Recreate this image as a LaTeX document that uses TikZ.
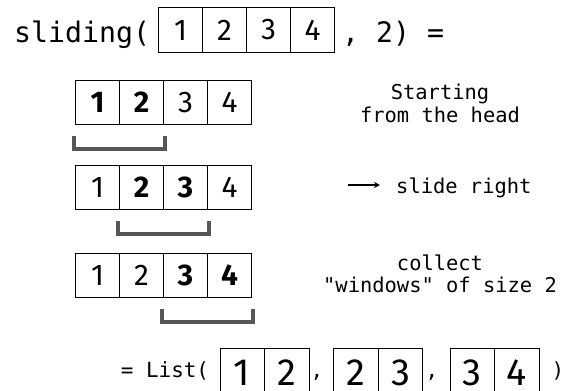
\documentclass[tikz,border=0pt]{standalone}
\usepackage{fontspec}
\setmainfont{Fira Sans}
\setmonofont{DejaVu Sans Mono}
\usetikzlibrary{calc,arrows.meta}
\definecolor{brk}{HTML}{575757}
\begin{document}
\begin{tikzpicture}[x=1bp,y=-1bp,
  cell/.style={draw=black,line width=1bp,minimum width=44bp,minimum height=44bp,
    inner sep=0pt,anchor=north west,font=\fontsize{30}{30}\selectfont},
  hot/.style={cell,font=\fontsize{30}{30}\selectfont\bfseries},
  pairbox/.style={draw=black,line width=1bp,minimum width=89bp,minimum height=48bp,
    inner sep=0pt,anchor=north west},
  bigdigit/.style={inner sep=0pt,font=\fontsize{38}{38}\selectfont},
  code/.style={inner sep=0pt,anchor=base west,font=\ttfamily\fontsize{28.3}{28.3}\selectfont},
  small/.style={inner sep=0pt,anchor=base,font=\ttfamily\fontsize{21}{21}\selectfont},
  note/.style={inner sep=0pt,anchor=base,font=\ttfamily\fontsize{20.5}{20.5}\selectfont},
  bracket/.style={draw=brk,line width=4.5bp,line join=miter},
  pointer/.style={draw=black,line width=1.3bp,-{Stealth[length=6bp,width=6bp]}},
]
\clip (0,0) rectangle (566,390);

% call line
\node[code] (call) at (14,42) {sliding(};
\node[cell,minimum height=45bp] (t1) at (158,7) {1};
\node[cell,minimum height=45bp] (t2) at (202,7) {2};
\node[cell,minimum height=45bp] (t3) at (246,7) {3};
\node[cell,minimum height=45bp] (t4) at (290,7) {4};
\node[code] (arg) at (342,42) {, 2) =};

% first window
\node[hot]  (a1) at (75,80)  {1};
\node[hot]  (a2) at (119,80) {2};
\node[cell] (a3) at (163,80) {3};
\node[cell] (a4) at (207,80) {4};
\draw[bracket] ($(a1.south west)+(-1,11)$) -- ++(0,13) -| ($(a2.south east)+(1,11)$);

% second window
\node[cell] (b1) at (75,165)  {1};
\node[hot]  (b2) at (119,165) {2};
\node[hot]  (b3) at (163,165) {3};
\node[cell] (b4) at (207,165) {4};
\draw[bracket] ($(b2.south west)+(-1,11)$) -- ++(0,13) -| ($(b3.south east)+(1,11)$);

% third window
\node[cell] (c1) at (75,253)  {1};
\node[cell] (c2) at (119,253) {2};
\node[hot]  (c3) at (163,253) {3};
\node[hot]  (c4) at (207,253) {4};
\draw[bracket] ($(c3.south west)+(-1,11)$) -- ++(0,13) -| ($(c4.south east)+(1,11)$);

% side notes
\node[note] (start1) at (440,99.5) {Starting};
\node[note] (start2) at (440,122)  {from the head};
\node[note,anchor=base west] (slide) at (396,193) {slide right};
\coordinate (arrtail) at (348,185);
\coordinate (arrtip) at (380,185);
\draw[pointer] (arrtail) -- (arrtip);
\node[note] (coll1) at (440,270.5) {collect};
\node[note] (coll2) at (440,292.5) {"windows" of size 2};

% result: three two-cell windows
\node[small,anchor=base west] (res) at (120.7,377) {= List(};
\node[pairbox] (p) at (219.5,348) {};
\node[pairbox] (q) at (333,348)   {};
\node[pairbox] (r) at (449.5,348) {};
\foreach \w in {p,q,r} \draw[line width=1bp] (\w.north) -- (\w.south);
\node[bigdigit] (p1) at ($(p.west)!0.5!(p.center)$) {1};
\node[bigdigit] (p2) at ($(p.center)!0.5!(p.east)$) {2};
\node[bigdigit] (q1) at ($(q.west)!0.5!(q.center)$) {2};
\node[bigdigit] (q2) at ($(q.center)!0.5!(q.east)$) {3};
\node[bigdigit] (r1) at ($(r.west)!0.5!(r.center)$) {3};
\node[bigdigit] (r2) at ($(r.center)!0.5!(r.east)$) {4};
\node[small] (cm1) at (317,377) {,};
\node[small] (cm2) at (432,377) {,};
\node[small] (close) at (558,377) {)};
\end{tikzpicture}
\end{document}
